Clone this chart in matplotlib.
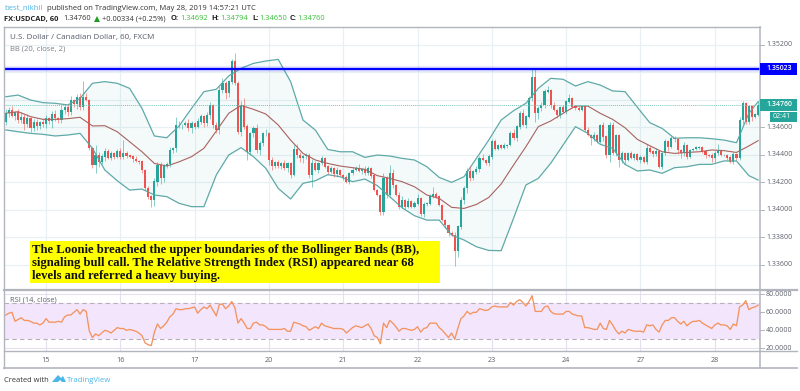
"""
USD/CAD hourly candles with Bollinger Bands and RSI, TradingView style.
"""
import matplotlib
matplotlib.use("Agg")
import matplotlib.pyplot as plt
from matplotlib.patches import Polygon, Rectangle
import numpy as np

# Hourly closes
closes = [
    1.34705, 1.34726, 1.34683, 1.34712, 1.34654, 1.34675, 1.34624, 1.34668, 1.34595, 1.34639,
    1.34610, 1.34639, 1.34624, 1.34668, 1.34646, 1.34697, 1.34668, 1.34654, 1.34726, 1.34748,
    1.34712, 1.34799, 1.34770, 1.34821, 1.34748, 1.34821, 1.34799, 1.34447, 1.34325, 1.34398,
    1.34350, 1.34386, 1.34423, 1.34379, 1.34410, 1.34386, 1.34423, 1.34386, 1.34410, 1.34393,
    1.34386, 1.34369, 1.34355, 1.34350, 1.34289, 1.34155, 1.34095, 1.34070, 1.34204, 1.34325,
    1.34228, 1.34321, 1.34330, 1.34435, 1.34447, 1.34617, 1.34617, 1.34617, 1.34629, 1.34592,
    1.34629, 1.34605, 1.34641, 1.34678, 1.34629, 1.34690, 1.34763, 1.34617, 1.34580, 1.34872,
    1.34921, 1.34848, 1.34933, 1.35078, 1.34921, 1.34568, 1.34763, 1.34605, 1.34422, 1.34556,
    1.34592, 1.34435, 1.34483, 1.34556, 1.34556, 1.34362, 1.34321, 1.34345, 1.34316, 1.34340,
    1.34306, 1.34335, 1.34253, 1.34442, 1.34398, 1.34379, 1.34389, 1.34393, 1.34253, 1.34338,
    1.34289, 1.34338, 1.34374, 1.34313, 1.34277, 1.34301, 1.34257, 1.34289, 1.34253, 1.34233,
    1.34204, 1.34265, 1.34289, 1.34301, 1.34282, 1.34296, 1.34265, 1.34301, 1.34248, 1.34143,
    1.34107, 1.33980, 1.34228, 1.34107, 1.34265, 1.34180, 1.34107, 1.34022, 1.34070, 1.34022,
    1.34063, 1.34022, 1.34044, 1.34082, 1.33966, 1.34039, 1.34044, 1.34095, 1.34112, 1.34095,
    1.34034, 1.33924, 1.33888, 1.33827, 1.33815, 1.33698, 1.33876, 1.34070, 1.34155, 1.34277,
    1.34228, 1.34277, 1.34296, 1.34374, 1.34362, 1.34338, 1.34386, 1.34496, 1.34442, 1.34466,
    1.34452, 1.34466, 1.34471, 1.34556, 1.34520, 1.34605, 1.34702, 1.34617, 1.34678, 1.34811,
    1.34964, 1.34702, 1.34738, 1.34763, 1.34860, 1.34872, 1.34763, 1.34726, 1.34690, 1.34746,
    1.34714, 1.34787, 1.34811, 1.34750, 1.34738, 1.34726, 1.34755, 1.34580, 1.34544, 1.34520,
    1.34544, 1.34496, 1.34617, 1.34532, 1.34398, 1.34617, 1.34410, 1.34544, 1.34362, 1.34410,
    1.34362, 1.34410, 1.34379, 1.34403, 1.34362, 1.34379, 1.34350, 1.34447, 1.34423, 1.34403,
    1.34427, 1.34313, 1.34410, 1.34496, 1.34459, 1.34520, 1.34515, 1.34435, 1.34410, 1.34471,
    1.34386, 1.34435, 1.34442, 1.34452, 1.34452, 1.34423, 1.34398, 1.34393, 1.34374, 1.34410,
    1.34427, 1.34398, 1.34398, 1.34379, 1.34350, 1.34403, 1.34374, 1.34653, 1.34775, 1.34641,
    1.34751, 1.34678, 1.34692, 1.34760,
]
first_open = 1.34640

# Wick lengths above and below the body, in pips
wick_up = [
    3, 2, 3, 1, 2, 4, 2, 3, 1, 2, 2, 1, 3, 2, 1, 2, 3, 1, 4, 2, 2, 3, 1, 2, 3, 12, 3, 1, 1, 7,
    2, 2, 3, 2, 2, 1, 2, 3, 10, 2, 1, 1, 2, 1, 1, 1, 2, 1, 3, 2, 2, 1, 2, 2, 1, 6, 3, 1, 2, 3,
    2, 1, 3, 2, 1, 2, 2, 1, 2, 3, 4, 2, 1, 2, 6, 2, 3, 5, 2, 1, 2, 3, 2, 1, 3, 1, 2, 1, 2, 1,
    2, 1, 1, 3, 4, 2, 1, 2, 2, 3, 2, 1, 2, 1, 1, 2, 1, 2, 1, 1, 2, 1, 2, 2, 3, 1, 2, 2, 1, 1,
    1, 1, 4, 2, 6, 3, 1, 2, 3, 1, 2, 1, 2, 3, 1, 2, 1, 2, 5, 2, 1, 1, 1, 1, 2, 2, 1, 2, 2, 3,
    4, 1, 2, 2, 3, 1, 2, 2, 2, 1, 1, 2, 1, 2, 3, 1, 2, 3, 1, 2, 6, 6, 2, 2, 2, 3, 1, 2, 1, 1,
    2, 1, 3, 1, 1, 2, 1, 1, 2, 1, 2, 1, 1, 2, 1, 2, 2, 1, 1, 2, 1, 1, 2, 1, 1, 2, 1, 3, 2, 1,
    2, 1, 1, 2, 1, 2, 2, 1, 1, 2, 1, 1, 1, 1, 1, 1, 1, 1, 2, 2, 5, 1, 1, 1, 1, 2, 1, 2, 2, 1,
    1, 1, 1, 3,
]
wick_down = [
    2, 3, 1, 3, 2, 2, 4, 2, 3, 2, 3, 2, 2, 3, 2, 5, 2, 2, 2, 3, 3, 2, 2, 4, 2, 2, 1, 1, 2, 6,
    4, 2, 3, 1, 2, 2, 1, 2, 2, 2, 1, 2, 1, 2, 2, 1, 2, 5, 4, 3, 4, 3, 2, 2, 2, 3, 2, 3, 1, 2,
    3, 2, 1, 2, 3, 2, 3, 2, 2, 3, 2, 4, 3, 2, 1, 2, 3, 2, 6, 2, 3, 2, 4, 2, 2, 4, 3, 2, 1, 2,
    2, 3, 2, 1, 2, 3, 4, 2, 2, 9, 1, 2, 1, 1, 2, 1, 2, 2, 1, 2, 1, 2, 1, 1, 1, 2, 1, 1, 2, 1,
    1, 2, 2, 2, 1, 2, 1, 2, 1, 2, 1, 1, 1, 1, 1, 2, 1, 1, 1, 1, 1, 1, 2, 2, 1, 11, 4, 2, 3, 3,
    2, 1, 2, 2, 1, 1, 2, 2, 1, 1, 1, 1, 2, 1, 1, 2, 2, 1, 2, 1, 2, 6, 4, 2, 2, 1, 2, 1, 2, 2,
    1, 2, 1, 1, 1, 1, 1, 1, 1, 5, 2, 1, 1, 3, 2, 5, 1, 2, 5, 2, 3, 1, 1, 2, 1, 2, 1, 2, 1, 2,
    1, 1, 2, 1, 3, 1, 2, 3, 3, 2, 2, 1, 1, 1, 1, 1, 2, 1, 3, 3, 1, 1, 1, 2, 1, 2, 1, 1, 3, 2,
    2, 3, 1, 1,
]

# Bollinger Bands, read every fourth bar
bb_bars = [
    0, 4, 8, 12, 16, 20, 24, 28, 32, 36, 40, 44, 48, 52, 56, 60, 64, 68, 72, 76, 80,
    84, 88, 92, 96, 100, 104, 108, 112, 116, 120, 124, 128, 132, 136, 140, 144, 148, 152, 156, 160,
    164, 168, 172, 176, 180, 184, 188, 192, 196, 200, 204, 208, 212, 216, 220, 224, 228, 232, 236, 240, 243,
]
bb_upper = [
    1.34823, 1.34835, 1.34799, 1.34780, 1.34775, 1.34763, 1.34811, 1.34921, 1.34933, 1.34921, 1.34884,
    1.34738, 1.34537, 1.34524, 1.34610, 1.34738, 1.34860, 1.34877, 1.34974, 1.35030, 1.35066,
    1.35083, 1.35095, 1.34933, 1.34653, 1.34580, 1.34439, 1.34422, 1.34422, 1.34381, 1.34398,
    1.34391, 1.34374, 1.34362, 1.34313, 1.34235, 1.34199, 1.34240, 1.34374, 1.34507, 1.34653,
    1.34721, 1.34775, 1.34884, 1.34957, 1.34950, 1.34901, 1.34933, 1.34908, 1.34865, 1.34860,
    1.34746, 1.34634, 1.34592, 1.34520, 1.34524, 1.34524, 1.34517, 1.34507, 1.34488, 1.34702, 1.34787,
]
bb_lower = [
    1.34581, 1.34568, 1.34556, 1.34549, 1.34537, 1.34544, 1.34556, 1.34447, 1.34289, 1.34211, 1.34143,
    1.34150, 1.34107, 1.34095, 1.34046, 1.34022, 1.34022, 1.34253, 1.34398, 1.34452, 1.34386,
    1.34301, 1.34155, 1.34078, 1.34192, 1.34211, 1.34255, 1.34240, 1.34204, 1.34223, 1.34175,
    1.34095, 1.34014, 1.33956, 1.33924, 1.33924, 1.33815, 1.33779, 1.33730, 1.33703, 1.33701,
    1.33937, 1.34180, 1.34228, 1.34338, 1.34471, 1.34605, 1.34556, 1.34476, 1.34447, 1.34330,
    1.34282, 1.34289, 1.34265, 1.34306, 1.34313, 1.34330, 1.34330, 1.34355, 1.34355, 1.34248, 1.34216,
]
bb_basis = [
    1.34702, 1.34714, 1.34678, 1.34658, 1.34658, 1.34663, 1.34673, 1.34610, 1.34612, 1.34568, 1.34495,
    1.34422, 1.34337, 1.34318, 1.34349, 1.34386, 1.34447, 1.34573, 1.34702, 1.34760, 1.34731,
    1.34697, 1.34617, 1.34507, 1.34410, 1.34362, 1.34337, 1.34318, 1.34306, 1.34294, 1.34248,
    1.34228, 1.34204, 1.34167, 1.34107, 1.34082, 1.34017, 1.34009, 1.34038, 1.34089, 1.34187,
    1.34325, 1.34459, 1.34605, 1.34646, 1.34702, 1.34755, 1.34755, 1.34702, 1.34658, 1.34597,
    1.34512, 1.34466, 1.34422, 1.34410, 1.34417, 1.34422, 1.34435, 1.34430, 1.34417, 1.34464, 1.34503,
]

rsi = [
    57, 59, 60, 50, 52, 54, 51, 51, 50, 48, 48, 46, 48, 53, 49, 49, 49, 50, 49, 55,
    57, 57, 60, 63, 58, 63, 61, 39, 32, 36, 34, 37, 40, 39, 37, 40, 43, 42, 42, 40,
    41, 40, 39, 37, 34, 26, 24, 23, 38, 47, 42, 45, 49, 55, 58, 64, 63, 63, 64, 64,
    65, 66, 59, 63, 66, 64, 68, 62, 56, 69, 69, 64, 67, 72, 65, 48, 53, 48, 42, 42,
    48, 49, 46, 46, 44, 41, 41, 41, 41, 41, 42, 39, 39, 49, 48, 47, 45, 44, 40, 42,
    44, 42, 48, 45, 44, 43, 42, 42, 42, 41, 37, 40, 43, 45, 44, 43, 45, 47, 42, 34,
    32, 25, 48, 43, 51, 48, 44, 39, 42, 42, 41, 40, 41, 44, 38, 42, 43, 48, 48, 48,
    43, 40, 36, 32, 37, 30, 42, 53, 56, 61, 58, 60, 60, 64, 63, 62, 63, 66, 67, 66,
    66, 66, 66, 71, 68, 72, 74, 71, 67, 72, 78.5, 61, 61, 61, 66, 67, 61, 58.5, 58, 58,
    58, 61, 61, 58, 57, 56, 56, 43, 43, 42, 41, 41, 48, 42, 41, 51, 46, 40, 36, 39,
    37, 41, 40, 39, 39, 39, 38, 46, 45, 46, 41, 38, 46, 51, 51, 54, 54, 50, 47, 50,
    45, 48, 50, 50, 51, 48, 46, 44, 42, 46, 48, 46, 46, 45, 41, 47, 45, 66, 68, 73,
    63, 65, 66, 68,
]

day_bars = [13, 37, 61, 85, 109, 133, 157, 181, 205, 229]
day_labels = ["15", "16", "17", "20", "21", "22", "23", "24", "27", "28"]
price_ticks = [1.352, 1.346, 1.344, 1.342, 1.340, 1.338, 1.336]
rsi_ticks = [80, 60, 40, 20]
resistance = 1.35023
last_price = 1.34760

UP = "#26a69a"
DOWN = "#ef5350"
GRID = "#e9f0f4"
FRAME = "#b2b5be"
LABEL = "#5d606b"
BLUE = "#4db6e8"
GREEN = "#35c035"

plt.rcParams["font.family"] = ["Open Sans", "DejaVu Sans"]

W, H = 800, 391


def box(x0, y0, x1, y1):
    # pixel box of the picture to figure fractions
    return [x0 / W, 1 - y1 / H, (x1 - x0) / W, (y1 - y0) / H]


fig = plt.figure(figsize=(W / 100, H / 100), dpi=100)
ax = fig.add_axes(box(4, 27, 760, 289))
ax_rsi = fig.add_axes(box(4, 291, 760, 351), sharex=ax)

closes = np.array(closes)
opens = np.r_[first_open, closes[:-1]]
bars = np.arange(len(closes))
highs = np.maximum(opens, closes) + np.array(wick_up) * 1e-4
lows = np.minimum(opens, closes) - np.array(wick_down) * 1e-4
colors = np.where(closes >= opens, UP, DOWN)

ax.set_xlim(-0.566, 243.6)
ax.set_ylim(1.33422, 1.35331)
ax.set_xticks(day_bars)
ax.set_yticks(np.arange(1.336, 1.3521, 0.002))
ax.grid(True, color=GRID, lw=0.9)
ax.set_axisbelow(True)
ax.tick_params(left=False, right=False, bottom=False, labelleft=False, labelbottom=False)

ax.fill_between(bb_bars, bb_lower, bb_upper, color="#26a69a", alpha=0.05, lw=0)
ax.plot(bb_bars, bb_upper, color="#5fa9a9", lw=0.9)
ax.plot(bb_bars, bb_lower, color="#5fa9a9", lw=0.9)
ax.plot(bb_bars, bb_basis, color="#a8625f", lw=0.8)

ax.vlines(bars, lows, highs, colors=colors, lw=0.7, alpha=0.55)
ax.bar(bars, np.abs(closes - opens) + 2e-5, bottom=np.minimum(opens, closes), width=0.68, color=colors, lw=0)

ax.axhline(last_price, color="#7cc4bd", lw=0.7, ls=(0, (1, 1)))
ax.axhline(resistance, color="#0000ff", lw=4, alpha=0.12)
ax.axhline(resistance, color="#0000ff", lw=1.6)

ax.text(6 / 756, 1 - 11 / 262, "U.S. Dollar / Canadian Dollar, 60, FXCM", transform=ax.transAxes,
        fontsize=5.75, color="#555b66", va="center")
ax.text(6 / 756, 1 - 22 / 262, "BB (20, close, 2)", transform=ax.transAxes,
        fontsize=5.5, color="#7b7f88", va="center")

# RSI pane
ax_rsi.set_ylim(17, 83.7)
ax_rsi.axhspan(30, 70, color="#f3e6fc", lw=0)
ax_rsi.set_yticks(rsi_ticks)
ax_rsi.grid(True, color="#e6e0ee", lw=0.8)
ax_rsi.set_axisbelow(True)
ax_rsi.axhline(70, color="#b7afbb", lw=0.8, ls=(0, (4, 3)))
ax_rsi.axhline(30, color="#b7afbb", lw=0.8, ls=(0, (4, 3)))
ax_rsi.plot(bars, rsi, color="#f4935e", lw=0.95)
ax_rsi.tick_params(left=False, right=False, bottom=False, labelleft=False, labelbottom=False)
ax_rsi.text(6 / 756, 1 - 9 / 60, "RSI (14, close)", transform=ax_rsi.transAxes,
            fontsize=5.3, color="#5d606b", va="center")

for a in (ax, ax_rsi):
    for s in a.spines.values():
        s.set_visible(False)

# callout
fig.patches.append(Rectangle((30 / W, 1 - 283 / H), 410 / W, 42 / H, transform=fig.transFigure,
                             color="#ffff00", lw=0, zorder=5))
callout = ["The Loonie breached the upper boundaries of the Bollinger Bands (BB),",
           "signaling bull call. The Relative Strength Index (RSI) appeared near 68",
           "levels and referred a heavy buying."]
for n, line in enumerate(callout):
    fig.text(32 / W, 1 - (250.2 + 12.7 * n) / H, line, family="Liberation Serif", weight="bold",
             fontsize=9.1, color="#111111", va="center", zorder=6)

# frame
frame_lines = [
    ((4, 760), (27, 27), 1.0), ((4, 797), (289.5, 289.5), 1.6), ((4, 797), (351, 351), 1.0),
    ((4, 797), (368, 368), 1.2), ((4, 4), (27, 368), 1.0), ((760, 760), (27, 368), 1.1),
]
for (xs, ys, lw) in frame_lines:
    fig.add_artist(plt.Line2D([x / W for x in xs], [1 - y / H for y in ys], color=FRAME, lw=lw,
                              transform=fig.transFigure))

# price axis
for p in price_ticks:
    ypx = 45 + (1.352 - p) / 0.002 * 27.45
    fig.add_artist(plt.Line2D([760 / W, 764 / W], [1 - ypx / H] * 2, color=FRAME, lw=0.7))
    fig.text(766 / W, 1 - ypx / H, f"{p:.5f}", fontsize=5.0, color=LABEL, va="center")
for v in rsi_ticks:
    ypx = 348.3 - (v - 20) * 0.9
    fig.add_artist(plt.Line2D([760 / W, 764 / W], [1 - ypx / H] * 2, color=FRAME, lw=0.7))
    fig.text(766 / W, 1 - ypx / H, f"{v:.4f}", fontsize=5.0, color=LABEL, va="center")
for b, lab in zip(day_bars, day_labels):
    xpx = 46 + 3.096 * (b - 13)
    fig.text(xpx / W, 1 - 360 / H, lab, fontsize=5.2, color=LABEL, va="center", ha="center")

# price labels
label_boxes = [
    (760, 63, 797, 75, "#0000ff", "1.35023", 766, True),
    (760, 99, 797, 111, UP, "1.34760", 766, True),
    (770, 112, 797, 122, UP, "02:41", 773, False),
]
for (x0, y0, x1, y1, c, s, tx, bold) in label_boxes:
    fig.patches.append(Rectangle((x0 / W, 1 - y1 / H), (x1 - x0) / W, (y1 - y0) / H,
                                 transform=fig.transFigure, color=c, lw=0, zorder=5))
    fig.text(tx / W, 1 - (y0 + y1) / 2 / H, s, fontsize=5.0, color="white", va="center", zorder=6,
             weight="semibold" if bold else "normal")

# header
fig.text(4 / W, 1 - 8 / H, "best_nikhil", fontsize=5.6, color=BLUE, va="center")
fig.text(47 / W, 1 - 8 / H, "published on TradingView.com, May 28, 2019 14:57:21 UTC", fontsize=5.5,
         color="#333333", va="center")
header = [
    (4, "FX:USDCAD, 60", "#222222", "bold"), (63, "1.34760", "#333333", "normal"),
    (102, "+0.00334 (+0.25%)", "#333333", "normal"),
    (171, "O:", "#222222", "bold"), (180, "1.34692", GREEN, "normal"),
    (211, "H:", "#222222", "bold"), (220, "1.34794", GREEN, "normal"),
    (252, "L:", "#222222", "bold"), (259, "1.34650", GREEN, "normal"),
    (290, "C:", "#222222", "bold"), (297, "1.34760", GREEN, "normal"),
]
for x, s, c, w in header:
    fig.text(x / W, 1 - 19 / H, s, fontsize=5.4, color=c, weight=w, va="center")
fig.patches.append(Polygon([(94 / W, 1 - 22 / H), (100 / W, 1 - 22 / H), (97 / W, 1 - 16 / H)],
                           transform=fig.transFigure, color="#1f9d1f", lw=0))

# footer
fig.text(4 / W, 1 - 380 / H, "Created with", fontsize=5.4, color="#333333", va="center")
fig.patches.append(Polygon([(x / W, 1 - y / H) for x, y in [(52, 382), (58, 375), (61, 378), (63, 376),
                                                            (66, 382), (62, 382), (60, 380), (58, 382)]],
                           transform=fig.transFigure, color=BLUE, lw=0))
fig.text(67 / W, 1 - 380 / H, "TradingView", fontsize=5.6, color=BLUE, va="center")

fig.savefig("out.png", dpi=100)
